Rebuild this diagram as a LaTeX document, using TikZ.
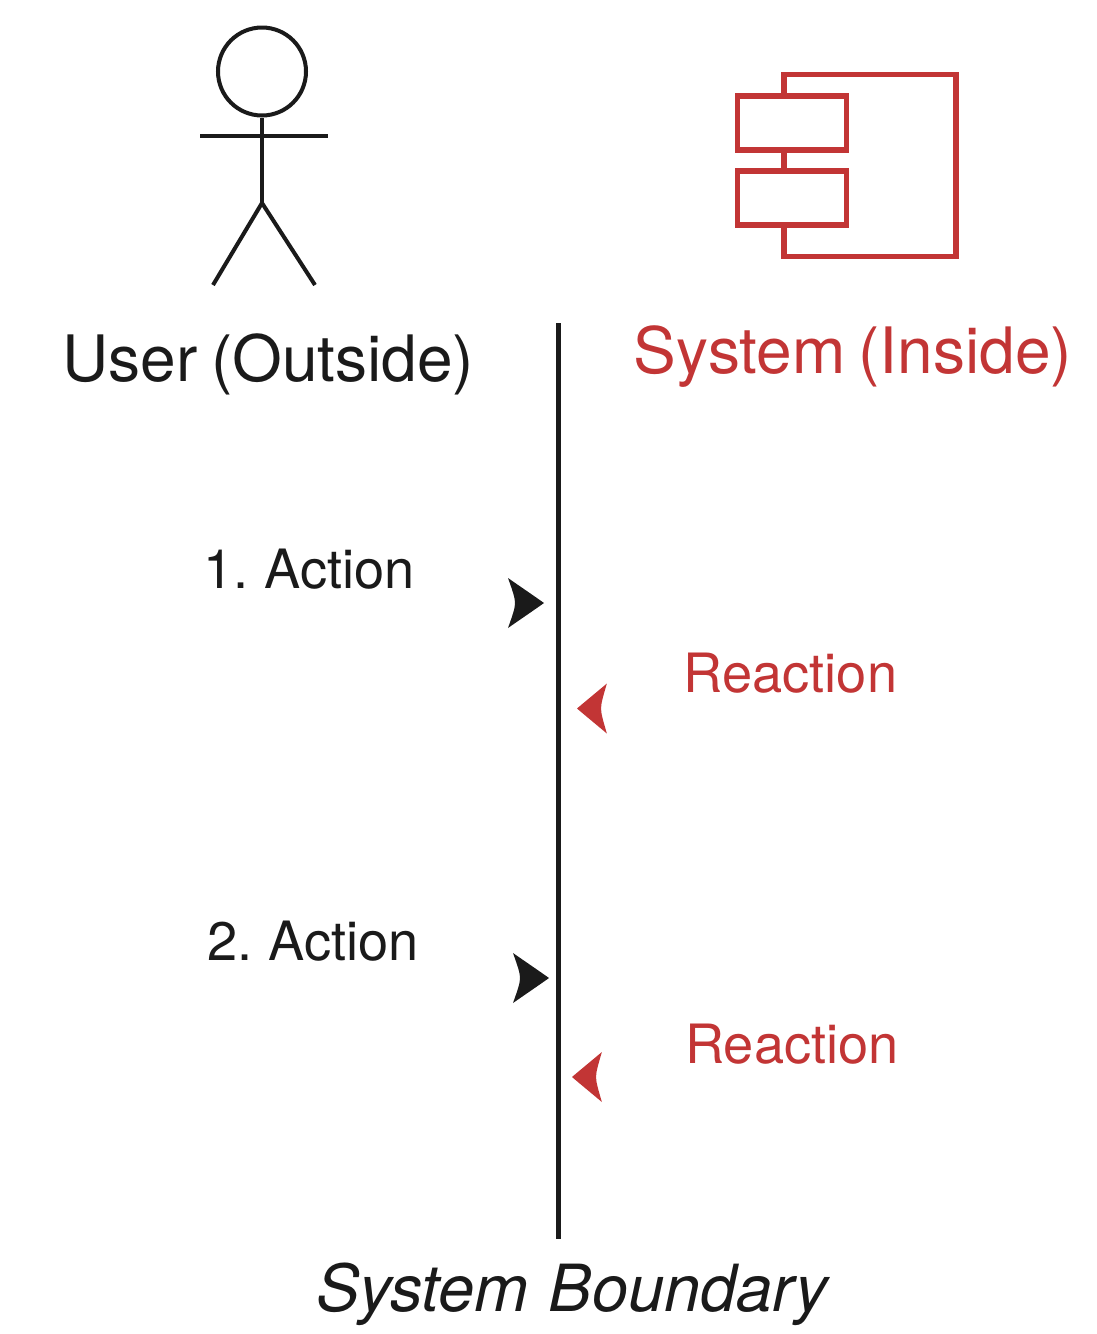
\documentclass[tikz,border=0pt]{standalone}
\usepackage{fontspec}
\setmainfont[WordSpace=0.75,ItalicFeatures={WordSpace=1.1}]{TeX Gyre Heros}
\definecolor{inkblack}{HTML}{1A1A1A}
\definecolor{sysred}{HTML}{C23535}
\tikzset{
  figure line/.style={inkblack,line width=4pt},
  system line/.style={sysred,line width=5.2pt,line join=miter},
  big label/.style={inner sep=0pt,anchor=base,font=\fontsize{64}{64}\selectfont},
  small label/.style={inner sep=0pt,anchor=base,font=\fontsize{54.2}{54.2}\selectfont},
  head mark/.pic={\fill (-36,-25) .. controls (-31,-11) and (-29,-5) .. (-29,0)
                         .. controls (-29,5) and (-31,11) .. (-36,25)
                         .. controls (-26,18) and (-12,8.5) .. (0,0)
                         .. controls (-12,-8.5) and (-26,-18) .. (-36,-25) -- cycle;}
}
\begin{document}
\begin{tikzpicture}[x=1pt,y=-1pt]
  \useasboundingbox (0,0) rectangle (1096,1334);
  % Left-hand side: the user
  \node[draw,figure line,circle,minimum size=88pt,inner sep=0pt] (head) at (262,71.5) {};
  \coordinate (hip)    at (262,203);
  \coordinate (handL)  at (200,135.5);
  \coordinate (handR)  at (328,135.5);
  \coordinate (footL)  at (213,285);
  \coordinate (footR)  at (315,285);
  \draw[figure line] (head) -- (hip);
  \draw[figure line] (handL) -- (handR);
  \draw[figure line] (footL) -- (hip) -- (footR);
  \node[big label,text=inkblack] (user) at (268.5,381) {User (Outside)};
  % Right-hand side: the system
  \node[draw,system line,minimum width=172pt,minimum height=182pt,inner sep=0pt] (system) at (870,165.5) {};
  \node[draw,system line,fill=white,minimum width=109pt,minimum height=54pt,inner sep=0pt] (portA) at (792,123) {};
  \node[draw,system line,fill=white,minimum width=109pt,minimum height=54pt,inner sep=0pt] (portB) at (792,198) {};
  \node[big label,text=sysred] (inside) at (853,373) {System (Inside)};
  % The boundary
  \coordinate (top)    at (558.5,323);
  \coordinate (bottom) at (558.5,1239);
  \draw[inkblack,line width=5.6pt] (top) -- (bottom);
  \node[big label,font=\fontsize{65}{65}\selectfont\itshape,text=inkblack] (boundary) at (572,1311) {System Boundary};
  % Steps
  \node[small label,text=inkblack] (actionA) at (309,588) {1. Action};
  \node[small label,text=inkblack] (actionB) at (313,960) {2. Action};
  \node[small label,text=sysred] (reactionA) at (790.5,692) {Reaction};
  \node[small label,text=sysred] (reactionB) at (792,1063) {Reaction};
  \path[inkblack] (544,603) pic {head mark};
  \path[inkblack] (549,978) pic {head mark};
  \path[sysred] (577,708.5) pic[xscale=-.83] {head mark};
  \path[sysred] (572,1077) pic[xscale=-.83] {head mark};
\end{tikzpicture}
\end{document}
